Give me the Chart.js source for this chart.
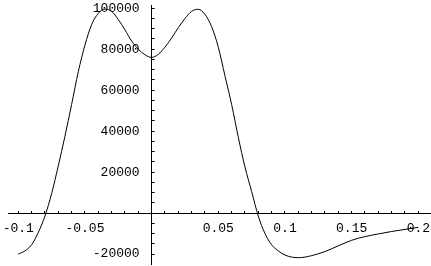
<!DOCTYPE html>
<html>
<head>
<meta charset="utf-8">
<script src="https://cdn.jsdelivr.net/npm/chart.js@4"></script>
<style>
  body { margin: 0; background: #fff; }
  canvas { display: block; }
</style>
</head>
<body>
<canvas id="plot" width="431" height="266"></canvas>
<script>
// values
const xValues = [-0.1, -0.095, -0.09, -0.085, -0.08, -0.075, -0.07, -0.065, -0.06, -0.055,
    -0.05, -0.045, -0.04, -0.035, -0.03, -0.025, -0.02, -0.015, -0.01, -0.005,
    0, 0.005, 0.01, 0.015, 0.02, 0.025, 0.03, 0.035, 0.04, 0.045,
    0.05, 0.055, 0.06, 0.065, 0.07, 0.075, 0.08, 0.085, 0.09, 0.095,
    0.1, 0.105, 0.11, 0.115, 0.12, 0.13, 0.14, 0.15, 0.16, 0.17, 0.18, 0.19, 0.2];
const yValues = [-20000, -18500, -15500, -9500, -1500, 9500, 23000, 37500, 53000, 69000,
    82000, 92000, 97500, 99600, 98500, 94500, 89500, 84000, 80000, 77300,
    76000, 77500, 81000, 85500, 90500, 95000, 98500, 99500, 97000, 91000,
    81000, 67000, 53000, 37000, 22500, 10500, -1500, -10000, -15500, -18500,
    -20500, -21500, -21800, -21500, -20800, -18800, -16000, -13300, -11500, -10200, -9000, -8000, -7000];

// labelled ticks (0 is not labelled in the picture)
const xTickLabels = [-0.1, -0.05, 0.05, 0.1, 0.15, 0.2];
const yTickLabels = [-20000, 20000, 40000, 60000, 80000, 100000];

// all tick marks, minor ones included
const xTicks = [];
for (let i = -10; i <= 20; i++) xTicks.push(i / 100);
const yTicks = [];
for (let v = -20000; v <= 100000; v += 5000) yTicks.push(v);

const points = xValues.map((x, i) => ({ x: x, y: yValues[i] }));

function near(v, list, eps) {
    return list.some(t => Math.abs(t - v) < eps);
}

const monoFont = { family: "'Liberation Mono', monospace", size: 13 };

// move the y axis box so that its line sits on x = 0
// (left edge kept at 0 so the labels are not clipped away)
const yAxisAtZero = {
    id: 'yAxisAtZero',
    afterLayout(chart) {
        const px = chart.scales.x.getPixelForValue(0);
        chart.scales.y.left = 0;
        chart.scales.y.right = px;
    }
};

new Chart(document.getElementById("plot"), {
    type: 'line',
    data: {
        datasets: [{
            data: points,
            borderColor: "#000",
            borderWidth: 1,
            pointRadius: 0,
            fill: false,
            cubicInterpolationMode: 'monotone'
        }]
    },
    options: {
        responsive: false,
        animation: false,
        layout: { padding: { left: 8, top: 5, right: 0, bottom: 2 } },
        plugins: {
            legend: { display: false },
            tooltip: { enabled: false }
        },
        scales: {
            x: {
                type: 'linear',
                position: { y: 0 },
                min: -0.1077,
                max: 0.2095,
                afterFit: s => { s.height = 0; s.paddingLeft = 0; s.paddingRight = 0; },
                afterBuildTicks: s => { s.ticks = xTicks.map(v => ({ value: v })); },
                border: { color: "#000", width: 1 },
                grid: { drawOnChartArea: false, color: "#000", tickLength: -3 },
                ticks: {
                    autoSkip: false,
                    maxRotation: 0,
                    padding: 11,
                    color: "#000",
                    font: monoFont,
                    callback: v => near(v, xTickLabels, 1e-6) ? String(parseFloat(v.toFixed(3))) : ''
                }
            },
            y: {
                type: 'linear',
                position: 'left',
                min: -24880,
                max: 101600,
                afterFit: s => { s.width = 0; s.paddingTop = 0; s.paddingBottom = 0; },
                afterBuildTicks: s => { s.ticks = yTicks.map(v => ({ value: v })); },
                border: { color: "#000", width: 1 },
                grid: { drawOnChartArea: false, color: "#000", tickLength: -3 },
                ticks: {
                    autoSkip: false,
                    padding: 15,
                    color: "#000",
                    font: monoFont,
                    callback: v => near(v, yTickLabels, 1) ? String(v) : ''
                }
            }
        }
    },
    plugins: [yAxisAtZero]
});
</script>
</body>
</html>
